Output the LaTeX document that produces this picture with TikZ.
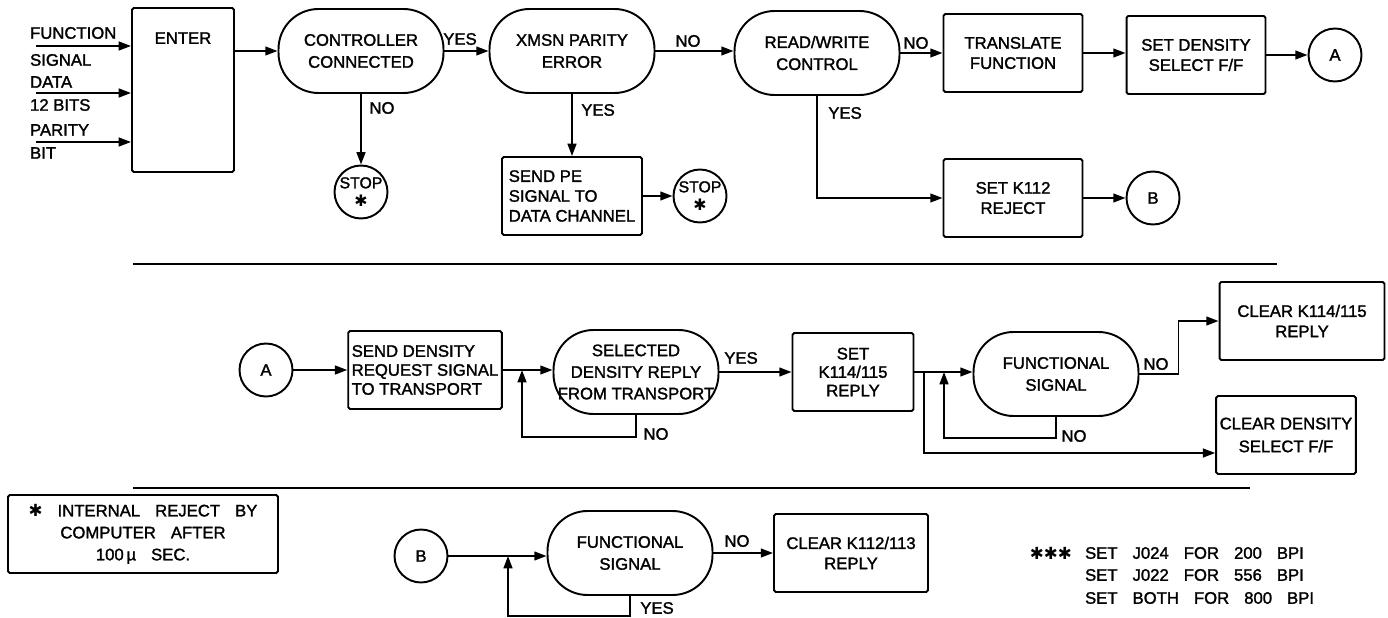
\documentclass[tikz,border=0pt]{standalone}
\usepackage{fontspec}
\setmainfont{Liberation Sans}[FakeBold=1.6]
\newfontfamily\symfont{DejaVu Sans}
\usetikzlibrary{arrows.meta,positioning}
\newcommand{\starmark}{{\symfont ✱}}
\newcommand{\wsp}{\hspace{0.9em}}
\tikzset{
  fbox/.style   ={rectangle, draw, line width=1.1pt, rounded corners=1pt,
                  minimum height=1.56cm, inner sep=2pt, align=center,
                  font=\fontsize{9.5}{11.5}\selectfont},
  fdecide/.style={rectangle, draw, line width=1.1pt, rounded corners=0.8cm,
                  minimum width=3.3cm, minimum height=1.68cm, inner sep=0pt,
                  align=center, font=\fontsize{9.5}{12.5}\selectfont},
  fconn/.style  ={circle, draw, line width=1.1pt, minimum size=1.06cm,
                  inner sep=0pt, align=center, font=\fontsize{9.5}{10}\selectfont},
  fstop/.style  ={fconn, font=\fontsize{9}{10.5}\selectfont},
  fflow/.style  ={->, line width=1.1pt},
  flabel/.style ={inner sep=1pt, font=\fontsize{9.5}{11}\selectfont},
  fsep/.style   ={line width=1.3pt},
}

\begin{document}
\begin{tikzpicture}[x=0.02cm, y=-0.02cm, >={Triangle[length=7pt,width=5pt]}]
  \useasboundingbox (0,0) rectangle (1388,618);
  % entry and first checks
  \node[fbox, minimum width=2.04cm, minimum height=3.28cm,
        label={[flabel, anchor=center, yshift=-0.62cm]north:ENTER}] (enter) at (183,90) {};
  \coordinate (inF) at (36,46);
  \coordinate (inD) at (36,93);
  \coordinate (inP) at (36,142);
  \node[flabel, anchor=west] (tFa) at (28,33)  {FUNCTION};
  \node[flabel, anchor=west] (tFb) at (28,60)  {SIGNAL};
  \node[flabel, anchor=west] (tDa) at (28,82)  {DATA};
  \node[flabel, anchor=west] (tDb) at (28,105) {12 BITS};
  \node[flabel, anchor=west] (tPa) at (28,130) {PARITY};
  \node[flabel, anchor=west] (tPb) at (28,153) {BIT};
  \draw[fflow] (inF) -- (inF -| enter.west);
  \draw[fflow] (inD) -- (inD -| enter.west);
  \draw[fflow] (inP) -- (inP -| enter.west);

  \node[fdecide] (ctrl) at (361,51) {CONTROLLER\\CONNECTED};
  \node[fdecide] (xmsn) at (572,51) {XMSN PARITY\\ERROR};
  \node[fdecide] (rw)   at (817,53) {READ/WRITE\\CONTROL};
  \node[fbox, minimum width=2.78cm] (transl)  at (1013,53) {TRANSLATE\\FUNCTION};
  \node[fbox, minimum width=2.78cm] (setdens) at (1196,55) {SET DENSITY\\SELECT F/F};
  \node[fconn] (conA) at (1335,55) {A};
  \node[fstop] (stop1) at (361,192) {STOP\\\starmark};
  \node[fbox, minimum width=2.8cm, align=left,
        font=\fontsize{9.5}{11.3}\selectfont] (sendpe) at (572,196) {SEND PE\\SIGNAL TO\\DATA CHANNEL};
  \node[fstop] (stop2) at (700,196) {STOP\\\starmark};
  \node[fbox, minimum width=2.78cm] (k112) at (1013,198) {SET K112\\REJECT};
  \node[fconn] (conB) at (1153,198) {B};

  \draw[fflow] (ctrl.west -| enter.east) -- (ctrl.west);
  \draw[fflow] (ctrl) -- (xmsn);
  \draw[fflow] (xmsn.east) -- (xmsn.east -| rw.west);
  \draw[fflow] (rw) -- (transl);
  \draw[fflow] (transl.east) -- (transl.east -| setdens.west);
  \draw[fflow] (setdens) -- (conA);
  \draw[fflow] (ctrl) -- (stop1);
  \draw[fflow] (xmsn) -- (sendpe);
  \draw[fflow] (sendpe) -- (stop2);
  \draw[fflow] (rw.south) |- (k112.west);
  \draw[fflow] (k112) -- (conB);
  \node[flabel] (yes1) at (460,39)  {YES};
  \node[flabel] (no1)  at (382,108) {NO};
  \node[flabel] (yes2) at (598,110) {YES};
  \node[flabel] (no2)  at (688,41)  {NO};
  \node[flabel] (no3)  at (916,43)  {NO};
  \node[flabel] (yes3) at (845,113) {YES};

  \draw[fsep] (133,264) -- (1277,264);

  % branch A
  \node[fconn] (conA2) at (266,370) {A};
  \node[fbox, minimum width=3.02cm, align=left,
        font=\fontsize{9.5}{10.8}\selectfont] (senddens) at (425,370) {SEND DENSITY\\REQUEST SIGNAL\\TO TRANSPORT};
  \node[fdecide, font=\fontsize{9.5}{12.3}\selectfont] (seldens) at (636,372) {SELECTED\\DENSITY REPLY\\FROM TRANSPORT};
  \node[fbox, minimum width=2.42cm, font=\fontsize{9.5}{10.5}\selectfont] (setk114) at (853,372) {SET\\K114/115\\REPLY};
  \node[fdecide] (func1) at (1056,374) {FUNCTIONAL\\SIGNAL};
  \node[fbox, minimum width=3.3cm] (clr114)  at (1302,321) {CLEAR K114/115\\REPLY};
  \node[fbox, minimum width=2.66cm, font=\fontsize{9.5}{13}\selectfont] (clrdens) at (1286,435) {CLEAR DENSITY\\SELECT F/F};
  \coordinate (jSel) at (522,370);
  \coordinate (jFun) at (944,372);
  \coordinate (bFun) at (924,372);

  \draw[fflow] (conA2) -- (senddens);
  \draw[fflow] (senddens) -- (senddens -| seldens.west);
  \draw[fflow] (seldens.south) -- ++(0,22) -| (jSel);
  \draw[fflow] (seldens) -- (setk114);
  \draw[fflow] (setk114) -- (setk114 -| func1.west);
  \draw[fflow] (func1.south) -- ++(0,21) -| (jFun);
  \draw[fflow] (bFun) |- ([yshift=-0.36cm]clrdens.west);
  \draw[fflow] (func1.east) -- ++(39,0) |- (clr114.west);
  \node[flabel] (no4)  at (656,434)  {NO};
  \node[flabel] (yes4) at (741,358)  {YES};
  \node[flabel] (no5)  at (1074,436) {NO};
  \node[flabel] (no6)  at (1156,364) {NO};

  \draw[fsep] (133,488) -- (1250,488);

  % branch B, notes
  \node[fbox, minimum width=5.4cm, font=\fontsize{9.5}{12.5}\selectfont] (note) at (143,534)
       {\starmark\wsp INTERNAL\wsp REJECT\wsp BY\\COMPUTER\wsp AFTER\\100\,µ\wsp SEC.};
  \node[fconn] (conB2) at (421,556) {B};
  \node[fdecide] (func2) at (630,553) {FUNCTIONAL\\SIGNAL};
  \node[fbox, minimum width=3.08cm] (clr112) at (851,553) {CLEAR K112/113\\REPLY};
  \coordinate (jFun2) at (508,556);
  \draw[fflow] (conB2) -- (conB2 -| func2.west);
  \draw[fflow] (func2.south) -- ++(0,20) -| (jFun2);
  \draw[fflow] (func2) -- (clr112);
  \node[flabel] (yes5) at (657,608) {YES};
  \node[flabel] (no7)  at (737,541) {NO};

  \node[flabel, anchor=east] (stars) at (1074,553) {\starmark\starmark\starmark};
  \node[flabel, anchor=west] (bpi1) at (1083,553) {SET\wsp J024\wsp FOR\wsp 200\wsp BPI};
  \node[flabel, anchor=west] (bpi2) at (1083,575) {SET\wsp J022\wsp FOR\wsp 556\wsp BPI};
  \node[flabel, anchor=west] (bpi3) at (1083,598) {SET\wsp BOTH\wsp FOR\wsp 800\wsp BPI};
\end{tikzpicture}
\end{document}
